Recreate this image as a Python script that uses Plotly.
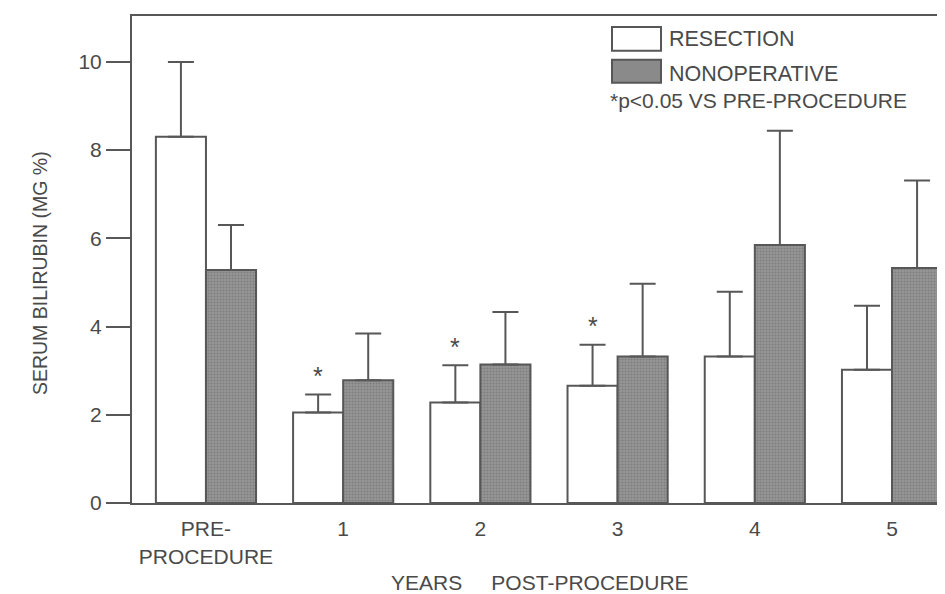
import plotly.graph_objects as go

categories = ["PRE-<br>PROCEDURE", "1", "2", "3", "4", "5"]
resection_mean = [8.3, 2.05, 2.28, 2.66, 3.32, 3.02]
resection_sd = [1.7, 0.41, 0.84, 0.93, 1.47, 1.45]
nonop_mean = [5.28, 2.78, 3.14, 3.32, 5.85, 5.33]
nonop_sd = [1.02, 1.06, 1.19, 1.65, 2.59, 1.98]
significant = [False, True, True, True, False, False]
y_ticks = [0, 2, 4, 6, 8, 10]

LINE = "#575757"
TEXT = "#4a4a4a"
FONT = "Liberation Sans, Arial, sans-serif"

fig = go.Figure()
fig.add_trace(go.Bar(
    x=categories, y=resection_mean, name="RESECTION",
    marker=dict(color="white", line=dict(color=LINE, width=2)),
    error_y=dict(type="data", symmetric=False, array=resection_sd,
                 arrayminus=[0] * len(resection_sd),
                 color=LINE, thickness=2, width=13),
))
fig.add_trace(go.Bar(
    x=categories, y=nonop_mean, name="NONOPERATIVE",
    marker=dict(color="#8a8a8a", line=dict(color=LINE, width=2),
                pattern=dict(shape=".", size=3, solidity=0.4,
                             fgcolor="#666666", bgcolor="#979797")),
    error_y=dict(type="data", symmetric=False, array=nonop_sd,
                 arrayminus=[0] * len(nonop_sd),
                 color=LINE, thickness=2, width=13),
))

annotations = []
# significance asterisks above resection error bars
for i, (c, m, s, sig) in enumerate(zip(categories, resection_mean, resection_sd, significant)):
    if sig:
        annotations.append(dict(
            x=i - 0.182, y=m + s + 0.47, xref="x", yref="y",
            text="*", showarrow=False, yanchor="middle", yshift=-2,
            font=dict(family=FONT, size=25, color=TEXT)))

# axis titles
annotations.append(dict(
    x=-0.1132, y=0.472, xref="paper", yref="paper", xanchor="center", yanchor="middle",
    text="SERUM BILIRUBIN (MG %)", textangle=-90, showarrow=False,
    font=dict(family=FONT, size=19.5, color=TEXT)))
annotations.append(dict(
    x=0.502, y=-0.1636, xref="paper", yref="paper", xanchor="center", yanchor="middle",
    text="YEARS" + "\u00a0" * 5 + "POST-PROCEDURE", showarrow=False,
    font=dict(family=FONT, size=21, color=TEXT)))

# legend text
annotations.append(dict(x=0.658, y=0.953, xref="paper", yref="paper", xanchor="left",
                        yanchor="middle", text="RESECTION", showarrow=False,
                        font=dict(family=FONT, size=21.5, color=TEXT)))
annotations.append(dict(x=0.658, y=0.880, xref="paper", yref="paper", xanchor="left",
                        yanchor="middle", text="NONOPERATIVE", showarrow=False,
                        font=dict(family=FONT, size=21.5, color=TEXT)))
annotations.append(dict(x=0.5855, y=0.826, xref="paper", yref="paper", xanchor="left",
                        yanchor="middle", text="*p<0.05 VS PRE-PROCEDURE", showarrow=False,
                        font=dict(family=FONT, size=21, color=TEXT)))

shapes = [
    dict(type="rect", xref="paper", yref="paper", x0=0.5904, x1=0.6507,
         y0=0.9284, y1=0.9775, line=dict(color=LINE, width=2), fillcolor="white"),
    dict(type="rect", xref="paper", yref="paper", x0=0.5904, x1=0.6507,
         y0=0.8630, y1=0.9100, line=dict(color=LINE, width=2), fillcolor="#8a8a8a"),
]

fig.update_layout(
    width=945, height=594,
    margin=dict(l=124, r=8, t=6, b=99),
    paper_bgcolor="white", plot_bgcolor="white",
    barmode="group", bargap=0.27, bargroupgap=0,
    showlegend=False,
    font=dict(family=FONT, size=21, color=TEXT),
    annotations=annotations, shapes=shapes,
    xaxis=dict(range=[-0.539, 5.386], showline=True, linecolor=LINE, linewidth=2,
               mirror=True, ticks="", showgrid=False, zeroline=False,
               ticklabelstandoff=6,
               tickfont=dict(family=FONT, size=21, color=TEXT)),
    yaxis=dict(range=[0, 11.04], tickvals=y_ticks, showline=True, linecolor=LINE,
               linewidth=2, ticks="outside", ticklen=24, tickwidth=2, tickcolor=LINE,
               showgrid=False, zeroline=False,
               tickfont=dict(family=FONT, size=21, color=TEXT)),
)

fig.write_html("out.html")
